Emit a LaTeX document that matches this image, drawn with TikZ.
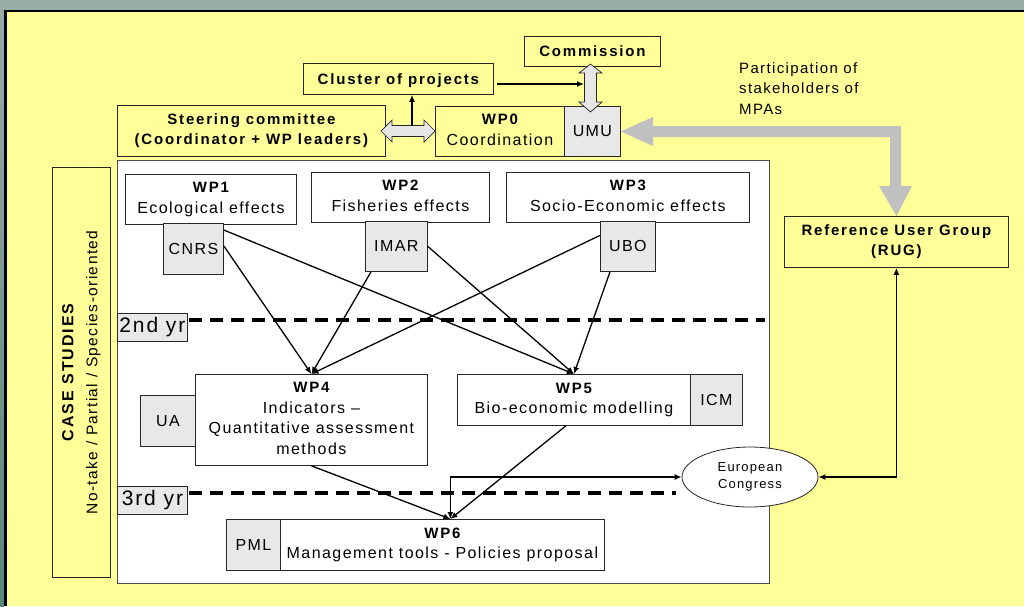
\documentclass[tikz,border=0pt]{standalone}
\usepackage{fontspec}
\setmainfont{Liberation Sans}[UprightFeatures={LetterSpace=9},BoldFeatures={LetterSpace=12}]
\usetikzlibrary{arrows.meta,calc,shapes.geometric}
\definecolor{bgyellow}{HTML}{FFFF99}
\definecolor{topgray}{HTML}{99ACA6}
\definecolor{leftteal}{HTML}{5B8579}
\definecolor{boxgray}{HTML}{E8E8E8}
\definecolor{fatgray}{HTML}{C0C0C0}
\definecolor{fatfill}{HTML}{E6E6E6}
\tikzset{
  box/.style={draw=black!85, line width=0.8pt, inner sep=0pt, align=center, anchor=north west,
    font=\fontsize{16}{20.5}\selectfont,
    execute at begin node={\rule{0pt}{14.5pt}},
    execute at end node={\rule[-3.5pt]{0pt}{3.5pt}}},
  ybox/.style={box, fill=bgyellow},
  wbox/.style={box, fill=white},
  gbox/.style={box, fill=boxgray},
  conn/.style={line width=1.3pt, -{Latex[length=7pt,width=6pt]}},
  dconn/.style={line width=1.3pt, {Latex[length=7pt,width=6pt]}-{Latex[length=7pt,width=6pt]}},
  yrline/.style={line width=3.8pt, dash pattern=on 13pt off 8pt},
  fatarrow/.style={draw=black!85, line width=0.7pt, fill=fatfill}
}
\newcommand\bb[1]{{\bfseries\fontsize{15}{20.5}\selectfont #1}}
\begin{document}
\begin{tikzpicture}[x=1pt,y=-1pt]
\useasboundingbox (0,0) rectangle (1024,606);
% background frame
\fill[topgray] (0,0) rectangle (1024,10);
\shade[top color=topgray, bottom color=leftteal] (0,0) rectangle (4,606);
\fill[black] (4,9.5) rectangle (1024,12);
\fill[black] (4,9.5) rectangle (7,606);
\fill[bgyellow] (7,12) rectangle (1024,606);

% top nodes
\node[ybox, minimum width=136pt, minimum height=30pt] (comm) at (524,36) {\bb{Commission}};
\node[ybox, minimum width=190pt, minimum height=31pt] (clus) at (303,63) {\bb{Cluster of projects}};
\node[ybox, minimum width=268pt, minimum height=51pt] (steer) at (117,105) {\bb{Steering committee}\\\bb{(Coordinator + WP leaders)}};
\node[ybox, minimum width=129pt, minimum height=50pt] (wp0) at (435,106) {\bb{WP0}\\Coordination};
\node[gbox, minimum width=56pt, minimum height=50pt] (umu) at (564,106) {UMU};
\node[anchor=north west, inner sep=0pt, align=left, font=\fontsize{15}{20.5}\selectfont] (part) at (739,62) {Participation of\\stakeholders of\\MPAs};
\node[ybox, minimum width=224pt, minimum height=51pt] (rug) at (784,216) {\bb{Reference User Group}\\\bb{(RUG)}};

% big gray arrow UMU <-> RUG
\fill[fatgray] (umu.east) -- (653,117) -- (653,126) -- (901,126) -- (901,186) -- (912,186)
  -- (rug.north) -- (879,186) -- (890,186) -- (890,137) -- (653,137) -- (653,146) -- cycle;

% fat double arrows
\draw[fatarrow] (381,131) -- (392,120) -- (392,125.5) -- (424,125.5) -- (424,120) -- (435,131)
  -- (424,142) -- (424,136.5) -- (392,136.5) -- (392,142) -- cycle;
\draw[fatarrow] (590.5,64) -- (602,73) -- (596.5,73) -- (596.5,102) -- (602,102) -- (590.5,112)
  -- (579,102) -- (584.5,102) -- (584.5,73) -- (579,73) -- cycle;
\coordinate (dam) at (412,125.5);
\draw[conn] (dam) -- (dam |- clus.south);
\coordinate (cl1) at (497,84);
\coordinate (cl2) at (584,84);
\draw[conn] (cl1) -- (cl2);

% white main area
\node[draw=black!70, line width=0.8pt, fill=white, inner sep=0pt, anchor=north west,
  minimum width=652pt, minimum height=423pt] (main) at (117,160) {};
\node[draw=black!85, line width=0.8pt, fill=bgyellow, inner sep=0pt, anchor=north west,
  minimum width=58pt, minimum height=410pt] (case) at (52,167) {};
\node[rotate=90, align=center, inner sep=0pt, font=\fontsize{15.5}{24}\selectfont] (casetxt) at (case.center)
  {{\bfseries\fontsize{16}{24}\selectfont CASE STUDIES}\\\addfontfeatures{LetterSpace=4}No-take / Partial / Species-oriented};

% WP boxes
\node[wbox, minimum width=171pt, minimum height=50pt] (wp1) at (125,174) {\bb{WP1}\\Ecological effects};
\node[gbox, minimum width=60pt, minimum height=51pt] (cnrs) at (163,223) {CNRS};
\node[wbox, minimum width=178pt, minimum height=50pt] (wp2) at (311,172) {\bb{WP2}\\Fisheries effects};
\node[gbox, minimum width=62pt, minimum height=50pt] (imar) at (365,221) {IMAR};
\node[wbox, minimum width=243pt, minimum height=50pt] (wp3) at (506,172) {\bb{WP3}\\Socio-Economic effects};
\node[gbox, minimum width=55pt, minimum height=50pt] (ubo) at (600,221) {UBO};

\node[gbox, minimum width=70pt, minimum height=28pt, font=\fontsize{21}{24}\selectfont,
  execute at begin node={}, execute at end node={}] (yr2) at (117,313) {2nd yr};
\coordinate (y2a) at (189,320);
\coordinate (y2b) at (765,320);
\draw[yrline] (y2a) -- (y2b);

\node[wbox, minimum width=232pt, minimum height=91pt] (wp4) at (195,374) {\bb{WP4}\\Indicators --\\Quantitative assessment\\methods};
\node[gbox, minimum width=55pt, minimum height=51pt] (ua) at (140,395) {UA};
\node[wbox, minimum width=233pt, minimum height=51pt] (wp5) at (457,374) {\bb{WP5}\\Bio-economic modelling};
\node[gbox, minimum width=52pt, minimum height=51pt] (icm) at (690,374) {ICM};

\node[ellipse, draw=black!85, fill=white, line width=0.8pt, minimum width=136pt, minimum height=60pt,
  inner sep=0pt, align=center, font=\fontsize{13}{17}\selectfont] (cong) at (750,477) {European\\Congress};

\node[gbox, minimum width=70pt, minimum height=28pt, font=\fontsize{21}{24}\selectfont,
  execute at begin node={}, execute at end node={}] (yr3) at (117,486) {3rd yr};
\coordinate (y3a) at (189,493);
\coordinate (y3b) at (676,493);
\draw[yrline] (y3a) -- (y3b);

\node[wbox, minimum width=324pt, minimum height=51pt] (wp6) at (280,519) {\bb{WP6}\\Management tools - Policies proposal};
\node[gbox, minimum width=54pt, minimum height=51pt] (pml) at (226,519) {PML};

% connectors
\coordinate (w4in) at (wp4.north);
\coordinate (w5in) at (wp5.north);
\coordinate (w6in) at ($(wp6.north)+(8,0)$);
\draw[conn] ($(cnrs.east)+(0,-3)$) -- (w4in);
\draw[conn] ($(cnrs.north east)+(0,7)$) -- (w5in);
\draw[conn] ($(imar.south west)+(6,0)$) -- (w4in);
\draw[conn] (imar.east) -- (w5in);
\draw[conn] ($(ubo.west)+(0,-11)$) -- (w4in);
\draw[conn] ($(ubo.south west)+(10,0)$) -- (w5in);
\draw[conn] (wp4.south) -- (w6in);
\draw[conn] ($(wp5.south)+(-8,0)$) -- (w6in);
\draw[dconn] (w6in) |- (cong.west);
\draw[dconn] (cong.east) -| (rug.south);
\end{tikzpicture}
\end{document}
